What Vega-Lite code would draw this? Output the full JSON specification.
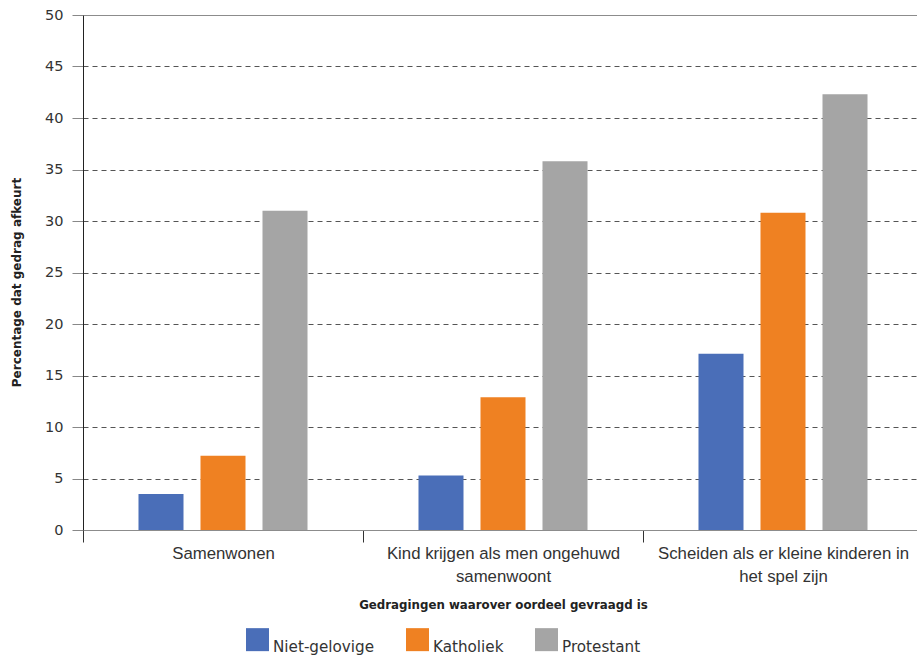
{
  "$schema": "https://vega.github.io/schema/vega-lite/v6.json",
  "width": 840,
  "height": 515,
  "autosize": "none",
  "padding": {"left": 83, "top": 15, "right": 0, "bottom": 125},
  "background": "white",
  "config": {"font": "DejaVu Sans", "view": {"stroke": null}},
  "data": {
    "values": [
      {"gedrag": "Samenwonen", "groep": "Niet-gelovige", "percentage": 3.5},
      {"gedrag": "Samenwonen", "groep": "Katholiek", "percentage": 7.2},
      {"gedrag": "Samenwonen", "groep": "Protestant", "percentage": 31.0},
      {"gedrag": "Kind krijgen als men ongehuwd samenwoont", "groep": "Niet-gelovige", "percentage": 5.3},
      {"gedrag": "Kind krijgen als men ongehuwd samenwoont", "groep": "Katholiek", "percentage": 12.9},
      {"gedrag": "Kind krijgen als men ongehuwd samenwoont", "groep": "Protestant", "percentage": 35.8},
      {"gedrag": "Scheiden als er kleine kinderen in het spel zijn", "groep": "Niet-gelovige", "percentage": 17.1},
      {"gedrag": "Scheiden als er kleine kinderen in het spel zijn", "groep": "Katholiek", "percentage": 30.8},
      {"gedrag": "Scheiden als er kleine kinderen in het spel zijn", "groep": "Protestant", "percentage": 42.3}
    ]
  },
  "mark": {"type": "bar"},
  "encoding": {
    "x": {
      "field": "gedrag",
      "type": "nominal",
      "sort": ["Samenwonen", "Kind krijgen als men ongehuwd samenwoont", "Scheiden als er kleine kinderen in het spel zijn"],
      "scale": {"paddingInner": 0, "paddingOuter": 0},
      "title": "Gedragingen waarover oordeel gevraagd is",
      "axis": {
        "tickBand": "extent",
        "tickSize": 12,
        "tickColor": "#333333",
        "domainColor": "#8c8c8c",
        "labelAngle": 0,
        "labelFont": "Liberation Sans",
        "labelFontSize": 16.8,
        "labelColor": "#333333",
        "labelPadding": 3,
        "labelLineHeight": 23,
        "labelLimit": 0,
        "labelExpr": "datum.label == 'Kind krijgen als men ongehuwd samenwoont' ? ['Kind krijgen als men ongehuwd', 'samenwoont'] : datum.label == 'Scheiden als er kleine kinderen in het spel zijn' ? ['Scheiden als er kleine kinderen in', 'het spel zijn'] : datum.label",
        "titleFontSize": 11.8,
        "titleFontWeight": "bold",
        "titleColor": "#222222",
        "titleBaseline": "alphabetic",
        "titleY": 78.5
      }
    },
    "xOffset": {
      "field": "groep",
      "type": "nominal",
      "sort": ["Niet-gelovige", "Katholiek", "Protestant"],
      "scale": {"paddingInner": 0.274, "paddingOuter": 0.895}
    },
    "y": {
      "field": "percentage",
      "type": "quantitative",
      "scale": {"domain": [0, 50], "nice": false},
      "title": "Percentage dat gedrag afkeurt",
      "axis": {
        "values": [0, 5, 10, 15, 20, 25, 30, 35, 40, 45, 50],
        "grid": true,
        "gridDash": {"condition": {"test": "datum.value === 50", "value": []}, "value": [5, 4]},
        "gridColor": {"condition": {"test": "datum.value === 50", "value": "#8c8c8c"}, "value": "#555555"},
        "gridOpacity": {"condition": {"test": "datum.value === 0", "value": 0}, "value": 1},
        "domainColor": "#222222",
        "tickColor": "#888888",
        "tickSize": 11,
        "labelPadding": 9,
        "labelFontSize": 14.5,
        "labelColor": "#333333",
        "titleFontSize": 12,
        "titleFontWeight": "bold",
        "titleColor": "#222222",
        "titleX": -60,
        "titleY": 267
      }
    },
    "color": {
      "field": "groep",
      "type": "nominal",
      "scale": {"domain": ["Niet-gelovige", "Katholiek", "Protestant"], "range": ["#4a6eb8", "#ef8122", "#a5a5a5"]},
      "legend": {
        "orient": "none",
        "legendX": 163,
        "legendY": 613,
        "direction": "horizontal",
        "title": null,
        "symbolType": "square",
        "symbolSize": 529,
        "symbolStrokeWidth": 0,
        "symbolOpacity": 1,
        "labelFontSize": 15.2,
        "labelColor": "#333333",
        "labelOffset": 4,
        "columnPadding": 31,
        "padding": 0,
        "labelBaseline": "top"
      }
    }
  }
}
